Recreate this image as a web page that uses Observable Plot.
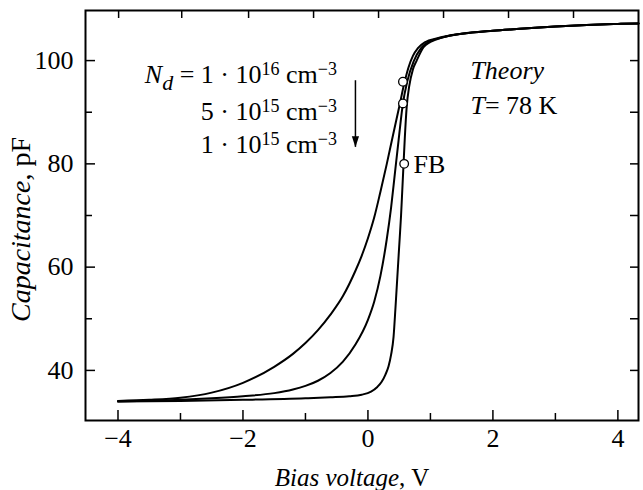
<!DOCTYPE html>
<html>
<head>
<meta charset="utf-8">
<script src="https://cdn.jsdelivr.net/npm/d3@7"></script>
<script src="https://cdn.jsdelivr.net/npm/@observablehq/plot@0.6"></script>
<style>
  html, body { margin: 0; padding: 0; background: #fff; }
  svg text { white-space: pre; }
</style>
</head>
<body>
<div id="chart"></div>
<script>
// ---- Data ----
// Curve 1: Nd = 1e16 cm^-3
const v1 = [-4, -3.5, -3, -2.5, -2, -1.5, -1.2, -1.0, -0.8, -0.6, -0.4, -0.2, -0.1, 0, 0.1, 0.2, 0.3, 0.4, 0.5, 0.58, 0.65, 0.72, 0.8, 0.92, 1.1, 1.5, 2, 2.5, 3, 3.5, 4, 4.33];
const c1 = [34.1, 34.3, 34.7, 35.7, 37.6, 40.7, 43.2, 45.3, 47.8, 50.8, 54.4, 59.3, 62.2, 65.6, 69.6, 74.6, 79.9, 85.5, 91.0, 95.5, 98.7, 100.9, 102.4, 103.6, 104.3, 105.2, 105.8, 106.2, 106.6, 106.9, 107.1, 107.2];
// Curve 2: Nd = 5e15 cm^-3
const v2 = [-4, -3, -2.5, -2, -1.5, -1.2, -1.0, -0.8, -0.6, -0.4, -0.2, 0, 0.1, 0.2, 0.3, 0.37, 0.43, 0.49, 0.56, 0.63, 0.73, 0.85, 0.95, 1.2, 1.5, 2, 2.5, 3, 3.5, 4, 4.33];
const c2 = [34.0, 34.3, 34.6, 35.0, 35.6, 36.3, 37.0, 38.0, 39.5, 41.7, 45.0, 49.8, 53.3, 58.3, 65.3, 71.5, 78.0, 84.5, 91.7, 96.0, 99.8, 102.4, 103.5, 104.5, 105.2, 105.8, 106.2, 106.6, 106.9, 107.1, 107.2];
// Curve 3: Nd = 1e15 cm^-3
const v3 = [-4, -3, -2, -1, -0.6, -0.3, -0.1, 0.05, 0.15, 0.22, 0.28, 0.33, 0.37, 0.41, 0.44, 0.47, 0.5, 0.53, 0.55, 0.57, 0.59, 0.62, 0.66, 0.72, 0.78, 0.89, 1.0, 1.2, 1.5, 2, 2.5, 3, 3.5, 4, 4.33];
const c3 = [34.0, 34.1, 34.3, 34.6, 34.8, 35.0, 35.3, 35.9, 36.8, 37.8, 39.2, 40.8, 43.0, 46.5, 52, 58, 64, 70, 75, 80, 85, 91, 95, 98.3, 100, 102.6, 103.6, 104.5, 105.2, 105.8, 106.2, 106.6, 106.9, 107.1, 107.2];

// Flat-band markers
const markerV = [0.56, 0.56, 0.58];
const markerC = [95.9, 91.7, 80.0];

// Ticks
const xMajor = [-4, -2, 0, 2, 4];
const xMinor = [-3, -1, 1, 3];
const xTop = [-3.99, -2.98, -1.91, -0.87, 0.17, 1.21, 2.25, 3.29];
const yMajor = [40, 60, 80, 100];
const yMinor = [50, 70, 90];

// Annotations (markup: *italic*, ^{sup}, _{sub})
const ndLabels = ["*N*_{*d*} = 1 · 10^{16} cm^{−3}", "5 · 10^{15} cm^{−3}", "1 · 10^{15} cm^{−3}"];
const ndV = [-0.496, -0.496, -0.496];
const ndC = [97.3, 90.2, 83.8];
const infoLabels = ["*Theory*", "*T*= 78 K"];
const infoV = [1.64, 1.64];
const infoC = [98.0, 91.3];
const fbLabel = ["FB"];
const fbV = [0.73];
const fbC = [79.9];
const arrowV = [-0.2];
const arrowTop = [96.1];
const arrowTip = [83.2];
const xTitle = "*Bias voltage*, V";
const yTitle = "*Capacitance*, pF";

// ---- Build tables ----
const curves = [
  ...v1.map((v, i) => ({v, c: c1[i], s: "1e16"})),
  ...v2.map((v, i) => ({v, c: c2[i], s: "5e15"})),
  ...v3.map((v, i) => ({v, c: c3[i], s: "1e15"}))
];
const markers = markerV.map((v, i) => ({v, c: markerC[i]}));
const nd = ndLabels.map((t, i) => ({t, v: ndV[i], c: ndC[i]}));
const info = infoLabels.map((t, i) => ({t, v: infoV[i], c: infoC[i]}));
const fb = fbLabel.map((t, i) => ({t, v: fbV[i], c: fbC[i]}));
const arrow = arrowV.map((v, i) => ({v, top: arrowTop[i], tip: arrowTip[i]}));

const W = 643, H = 490, ML = 85, MR = 5, MT = 10, MB = 70;
const FW = W - ML - MR, FH = H - MT - MB;

const arrowHead = {
  draw(ctx) {
    ctx.moveTo(-3.6, -11);
    ctx.lineTo(3.6, -11);
    ctx.lineTo(0, 0);
    ctx.closePath();
  }
};

const chart = Plot.plot({
  width: W, height: H,
  marginLeft: ML, marginRight: MR, marginTop: MT, marginBottom: MB,
  x: {domain: [-4.52, 4.33]},
  y: {domain: [30.3, 109.7]},
  style: {fontFamily: "'Liberation Serif', 'Times New Roman', serif", fontSize: "26px", color: "black", background: "white"},
  marks: [
    // ticks (inward)
    Plot.tickX(xMajor, {x: d => d, insetTop: FH - 10, strokeWidth: 1.5}),
    Plot.tickX(xMinor, {x: d => d, insetTop: FH - 7, strokeWidth: 1.5}),
    Plot.tickX(xTop, {x: d => d, insetBottom: FH - 8, strokeWidth: 1.5}),
    Plot.tickY(yMajor, {y: d => d, insetRight: FW - 10, strokeWidth: 1.5}),
    Plot.tickY(yMinor, {y: d => d, insetRight: FW - 7, strokeWidth: 1.5}),
    Plot.tickY([...yMajor, ...yMinor], {y: d => d, insetLeft: FW - 8, strokeWidth: 1.5}),
    Plot.axisX(xMajor, {tickSize: 0, tickPadding: 8, label: null}),
    Plot.axisY(yMajor, {tickSize: 0, tickPadding: 12, label: null}),
    // curves
    Plot.line(curves, {x: "v", y: "c", z: "s", curve: "monotone-x", stroke: "black", strokeWidth: 2}),
    Plot.dot(markers, {x: "v", y: "c", r: 4.3, fill: "white", stroke: "black", strokeWidth: 1.3}),
    // arrow
    Plot.ruleX(arrow, {x: "v", y1: "top", y2: "tip", strokeWidth: 1.5}),
    Plot.dot(arrow, {x: "v", y: "tip", symbol: arrowHead, fill: "black", stroke: "none", r: 5}),
    // annotations
    Plot.text(nd, {x: "v", y: "c", text: "t", textAnchor: "end", lineAnchor: "middle"}),
    Plot.text(info, {x: "v", y: "c", text: "t", textAnchor: "start", lineAnchor: "middle"}),
    Plot.text(fb, {x: "v", y: "c", text: "t", textAnchor: "start", lineAnchor: "middle"}),
    // axis titles
    Plot.text([xTitle], {text: d => d, frameAnchor: "bottom", textAnchor: "middle", lineAnchor: "middle", fontSize: 25, dx: -10, dy: 57}),
    Plot.text([yTitle], {text: d => d, frameAnchor: "left", textAnchor: "middle", lineAnchor: "middle", fontSize: 28, rotate: -90, dx: -64, dy: 14}),
    Plot.frame({stroke: "black", strokeWidth: 2})
  ]
});

// ---- rich-text post-processing ----
function parse(str, shift, italic0, out) {
  let italic = italic0, buf = "";
  const flush = () => { if (buf) out.push({t: buf, italic, shift}); buf = ""; };
  for (let i = 0; i < str.length; i++) {
    const ch = str[i];
    if (ch === "*") { flush(); italic = !italic; }
    else if ((ch === "^" || ch === "_") && str[i + 1] === "{") {
      flush();
      const j = str.indexOf("}", i);
      parse(str.slice(i + 2, j), ch === "^" ? 1 : -1, italic, out);
      i = j;
    } else buf += ch;
  }
  flush();
}
const NS = "http://www.w3.org/2000/svg";
chart.querySelectorAll("text").forEach(el => {
  const s = el.textContent;
  if (!/[*^_]/.test(s)) return;
  const segs = [];
  parse(s, 0, false, segs);
  el.textContent = "";
  let cur = 0;
  for (const seg of segs) {
    const ts = document.createElementNS(NS, "tspan");
    const target = seg.shift === 1 ? -7.5 : seg.shift === -1 ? 7.5 : 0;
    if (target !== cur) ts.setAttribute("dy", String(target - cur));
    cur = target;
    if (seg.shift === 1) ts.setAttribute("font-size", "18px");
    if (seg.shift === -1) ts.setAttribute("font-size", "22px");
    if (seg.italic) ts.setAttribute("font-style", "italic");
    ts.textContent = seg.t;
    el.appendChild(ts);
  }
});

document.getElementById("chart").appendChild(chart);
</script>
</body>
</html>
